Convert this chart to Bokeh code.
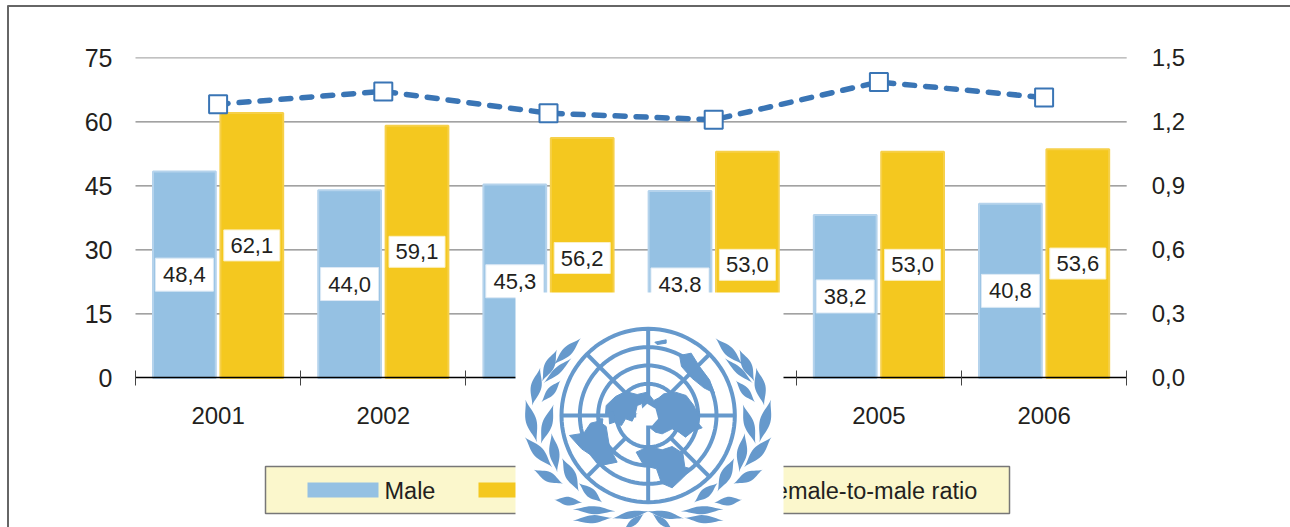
import math
from bokeh.plotting import figure
from bokeh.models import Range1d, LinearAxis, FixedTicker, CustomJSTickFormatter
from bokeh.core.properties import value
from bokeh.embed import file_html
from bokeh.resources import INLINE

years = ["2001", "2002", "2003", "2004", "2005", "2006"]
male = [48.4, 44.0, 45.3, 43.8, 38.2, 40.8]
female = [62.1, 59.1, 56.2, 53.0, 53.0, 53.6]
ratio = [1.283, 1.343, 1.241, 1.210, 1.387, 1.314]
male_labels = ["48,4", "44,0", "45,3", "43,8", "38,2", "40,8"]
female_labels = ["62,1", "59,1", "56,2", "53,0", "53,0", "53,6"]
left_ticks = [0, 15, 30, 45, 60, 75]
right_ticks = [0.0, 0.3, 0.6, 0.9, 1.2, 1.5]
legend_labels = ["Male", "Female", "Female-to-male ratio"]

FONT = value("Liberation Sans")
INK = "#231F20"
BLUE = "#95C1E3"
GOLD = "#F4C81F"
LINE = "#3A75B5"
EMBLEM = "#6699CC"
WIDTH, HEIGHT = 1290, 527
ORIGIN = 0


def X(px):
    return (px - 217.6) / 165.2


def Y(py):
    return (377.4 - py) / 320.0 * 75.0


p = figure(width=WIDTH, height=HEIGHT, output_backend="svg", toolbar_location=None,
           x_axis_type=None, y_axis_type=None,
           x_range=Range1d(X(ORIGIN), X(ORIGIN + WIDTH)),
           y_range=Range1d(Y(ORIGIN + HEIGHT), Y(ORIGIN)),
           min_border=0, min_border_left=0, min_border_right=0,
           min_border_top=0, min_border_bottom=0, outline_line_color=None)
p.extra_y_ranges = {"ratio": Range1d(Y(ORIGIN + HEIGHT) / 50.0, Y(ORIGIN) / 50.0)}

xs = list(range(len(years)))
bounds = [i - 0.5 for i in range(len(years) + 1)]

# outer frame (top and left rules)
p.segment(x0=[X(7), X(7.5)], y0=[Y(5.5), Y(5)], x1=[X(1290), X(7.5)], y1=[Y(5.5), Y(527)],
          line_color="#666666", line_width=2)

# gridlines
p.segment(x0=[-0.5] * 5, x1=[5.5] * 5, y0=left_ticks[1:], y1=left_ticks[1:],
          line_color=["#666666"] * 4 + ["#999999"], line_width=1)

# bars
off, bw = 0.204, 0.38
p.vbar(x=[i - off for i in xs], top=male, width=bw, bottom=0,
       fill_color=BLUE, line_color="#B5D3EC", line_width=2)
p.vbar(x=[i + off for i in xs], top=female, width=bw, bottom=0,
       fill_color=GOLD, line_color="#F6D04A", line_width=2)

# value labels
p.rect(x=[i - off for i in xs], y=[v / 2 for v in male], width=58, height=33,
       width_units="screen", height_units="screen", fill_color="white", line_color="#DCE9F5", line_width=1)
p.rect(x=[i + off for i in xs], y=[v / 2 for v in female], width=56, height=31,
       width_units="screen", height_units="screen", fill_color="white", line_color="#FBF0C4", line_width=1)
p.text(x=[i - off for i in xs], y=[v / 2 for v in male], text=male_labels, text_font=FONT,
       text_font_size="22px", text_color=INK, text_align="center", text_baseline="middle")
p.text(x=[i + off for i in xs], y=[v / 2 for v in female], text=female_labels, text_font=FONT,
       text_font_size="22px", text_color=INK, text_align="center", text_baseline="middle")

# ratio line
p.line(xs, ratio, y_range_name="ratio", line_color=LINE, line_width=5.5, line_dash="10 11", line_cap="round")
p.scatter(xs, ratio, y_range_name="ratio", marker="square", size=18,
          fill_color="white", line_color=LINE, line_width=2)

# legend
p.quad(left=[X(265)], right=[X(1009)], top=[Y(466)], bottom=[Y(513)],
       fill_color="#FBF7CC", line_color="#777777", line_width=1.5)
p.quad(left=[X(307), X(478)], right=[X(378), X(549)], top=[Y(482)] * 2, bottom=[Y(497)] * 2,
       fill_color=[BLUE, GOLD], line_color=None)
p.line([X(660), X(745)], [Y(490)] * 2, line_color=LINE, line_width=5, line_dash="13 8")
p.text(x=[X(384), X(555), X(760)], y=[Y(490)] * 3, text=legend_labels, text_font=FONT,
       text_font_size="23.5px", text_color=INK, text_align="left", text_baseline="middle")

# axes
left = LinearAxis(ticker=FixedTicker(ticks=left_ticks), fixed_location=-0.5,
                  axis_line_color=None, major_tick_line_color=None, minor_tick_line_color=None,
                  major_label_standoff=17, major_label_text_font="Liberation Sans",
                  major_label_text_font_size="25px", major_label_text_color=INK)
p.add_layout(left, "left")
right = LinearAxis(y_range_name="ratio", ticker=FixedTicker(ticks=right_ticks), fixed_location=5.5,
                   axis_line_color=None, major_tick_line_color=None, minor_tick_line_color=None,
                   major_label_standoff=19, major_label_text_font="Liberation Sans",
                   major_label_text_font_size="24px", major_label_text_color=INK,
                   formatter=CustomJSTickFormatter(code="return tick.toFixed(1).replace('.', ',');"))
p.add_layout(right, "right")
bottom = LinearAxis(ticker=FixedTicker(ticks=xs, minor_ticks=bounds), fixed_location=0, bounds=(-0.5, 5.5),
                    axis_line_color="#000000", axis_line_width=1.5,
                    major_tick_line_color=None, major_tick_in=0, major_tick_out=0,
                    minor_tick_line_color="#444444", minor_tick_in=7, minor_tick_out=8,
                    major_label_standoff=21, major_label_text_font="Liberation Sans",
                    major_label_text_font_size="24px", major_label_text_color=INK,
                    major_label_overrides=dict(zip(xs, years)))
p.add_layout(bottom, "below")

# ---- UN emblem, drawn over the chart, in pixels of the page


def EX(zx):
    return X(515 + zx / 3.0)


def EY(zy):
    return Y(290 + zy / 3.0)


p.quad(left=[X(515)], right=[X(783)], top=[Y(292)], bottom=[Y(527)],
       fill_color="white", line_color=None, level="overlay")

CX, CY = 398, 375
rings = [260, 205, 150, 95]
ring_x, ring_y = [], []
for r in rings:
    pts = [2 * math.pi * k / 96 for k in range(97)]
    ring_x.append([EX(CX + r * math.cos(a)) for a in pts])
    ring_y.append([EY(CY + r * math.sin(a)) for a in pts])
p.multi_line(ring_x, ring_y, line_color=EMBLEM, line_width=4, level="overlay")

sp = 260 * math.sqrt(0.5)
ins = 95 * math.sqrt(0.5)
spokes = [((CX - 260, CY), (CX + 260, CY)), ((CX, CY - 260), (CX, CY + 260)),
          ((CX - sp, CY - sp), (CX - ins, CY - ins)), ((CX + sp, CY - sp), (CX + ins, CY - ins)),
          ((CX - sp, CY + sp), (CX - ins, CY + ins)), ((CX + sp, CY + sp), (CX + ins, CY + ins))]
p.multi_line([[EX(a[0]), EX(b[0])] for a, b in spokes], [[EY(a[1]), EY(b[1])] for a, b in spokes],
             line_color=EMBLEM, line_width=4, level="overlay")

lands = [
    [(272, 345), (300, 318), (330, 303), (365, 312), (395, 305), (405, 330), (365, 345), (358, 375), (350, 392),
     (330, 385), (318, 405), (300, 398), (290, 375), (270, 370)],
    [(395, 305), (415, 330), (430, 322), (445, 310), (480, 305), (512, 315), (535, 345), (548, 375), (548, 398),
     (560, 412), (532, 422), (510, 440), (490, 425), (470, 415), (440, 430), (420, 425), (395, 405), (380, 345)],
    [(162, 435), (205, 428), (225, 398), (250, 392), (272, 408), (282, 470), (305, 515), (260, 524), (228, 495),
     (198, 475)],
    [(362, 485), (400, 468), (440, 478), (470, 468), (502, 488), (508, 530), (528, 535), (502, 562), (470, 592),
     (438, 578), (423, 535), (385, 525)],
    [(492, 195), (527, 188), (552, 228), (582, 268), (597, 308), (565, 292), (528, 262), (498, 228)],
    [(418, 155), (452, 148), (452, 158), (425, 162)],
    [(250, 385), (262, 385), (260, 405), (252, 405)],
    [(280, 365), (295, 362), (297, 395), (282, 400)],
]
p.patches([[EX(q[0]) for q in s] for s in lands], [[EY(q[1]) for q in s] for s in lands],
          fill_color=EMBLEM, line_color=EMBLEM, line_width=1, level="overlay")
polar = [(362, 372), (395, 340), (420, 355), (428, 385), (410, 405), (385, 405), (362, 390)]
p.patch([EX(q[0]) for q in polar], [EY(q[1]) for q in polar], fill_color="white", line_color=None, level="overlay")

leaves = [
    (115, 222, 196, 143, 28), (80, 272, 124, 178, 30), (84, 278, 168, 203, 20),
    (50, 345, 74, 232, 32), (78, 335, 135, 270, 24), (64, 455, 30, 328, 32),
    (76, 460, 114, 342, 30), (110, 530, 28, 440, 32), (125, 545, 108, 428, 30),
    (142, 580, 55, 538, 30), (190, 603, 140, 503, 32), (200, 636, 116, 628, 26),
    (260, 636, 190, 578, 28), (300, 662, 172, 656, 24), (400, 662, 290, 684, 22),
    (385, 670, 325, 718, 20), (290, 682, 172, 690, 24),
]


def lens(x0, y0, x1, y1, w):
    dx, dy = x1 - x0, y1 - y0
    n = math.hypot(dx, dy)
    nx, ny = -dy / n, dx / n
    pts = []
    for k in range(17):
        t = k / 16
        o = w / 2 * math.sin(math.pi * t) ** 1.5
        pts.append((x0 + dx * t + nx * o, y0 + dy * t + ny * o))
    for k in range(16, -1, -1):
        t = k / 16
        o = w / 2 * math.sin(math.pi * t) ** 1.5
        pts.append((x0 + dx * t - nx * o, y0 + dy * t - ny * o))
    return pts


shapes = []
for (a, b, c, d, w) in leaves:
    shapes.append(lens(a, b, c, d, w))
    shapes.append(lens(2 * CX - a, b, 2 * CX - c, d, w))
p.patches([[EX(q[0]) for q in s] for s in shapes], [[EY(q[1]) for q in s] for s in shapes],
          fill_color=EMBLEM, line_color=None, level="overlay")

open("out.html", "w").write(file_html(p, INLINE))
